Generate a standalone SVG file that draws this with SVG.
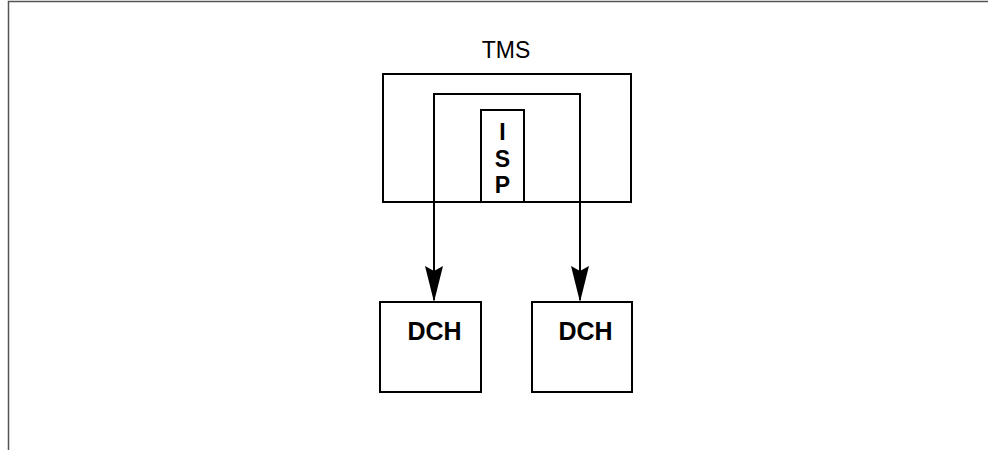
<svg xmlns="http://www.w3.org/2000/svg" width="988" height="450" viewBox="0 0 988 450">
<style>
.box{fill:#fff;stroke:#000;stroke-width:2}
.line{fill:none;stroke:#000;stroke-width:2}
.head{fill:#000}
.lbl{font-family:"Liberation Sans",Arial,sans-serif;fill:#000}
.b{font-weight:bold;font-size:25px}
.isp{font-weight:bold;font-size:23px}
</style>
<rect x="0" y="0" width="988" height="450" fill="#fff"/>
<path d="M8.5,450 V1.5 H988" fill="none" stroke="#555" stroke-width="1.5"/>
<g id="tms">
<rect class="box" x="383" y="74" width="248" height="128"/>
<text class="lbl" x="506" y="58" font-size="23" text-anchor="middle">TMS</text>
</g>
<g id="connectors">
<path class="line" d="M434,300 V94 H580 V300"/>
<path class="head" d="M425,266 L434,271 L443,266 L434,302 Z"/>
<path class="head" d="M571,266 L580,271 L589,266 L580,302 Z"/>
</g>
<g id="isp">
<rect class="box" x="481" y="110" width="43" height="92"/>
<text class="lbl isp" x="502.5" y="140" text-anchor="middle">I</text>
<text class="lbl isp" x="502.5" y="166.5" text-anchor="middle">S</text>
<text class="lbl isp" x="502.5" y="193" text-anchor="middle">P</text>
</g>
<g id="dch1">
<rect class="box" x="380" y="302" width="101" height="90"/>
<text class="lbl b" x="434.5" y="340" text-anchor="middle">DCH</text>
</g>
<g id="dch2">
<rect class="box" x="532" y="302" width="100" height="90"/>
<text class="lbl b" x="585.5" y="340" text-anchor="middle">DCH</text>
</g>
</svg>
